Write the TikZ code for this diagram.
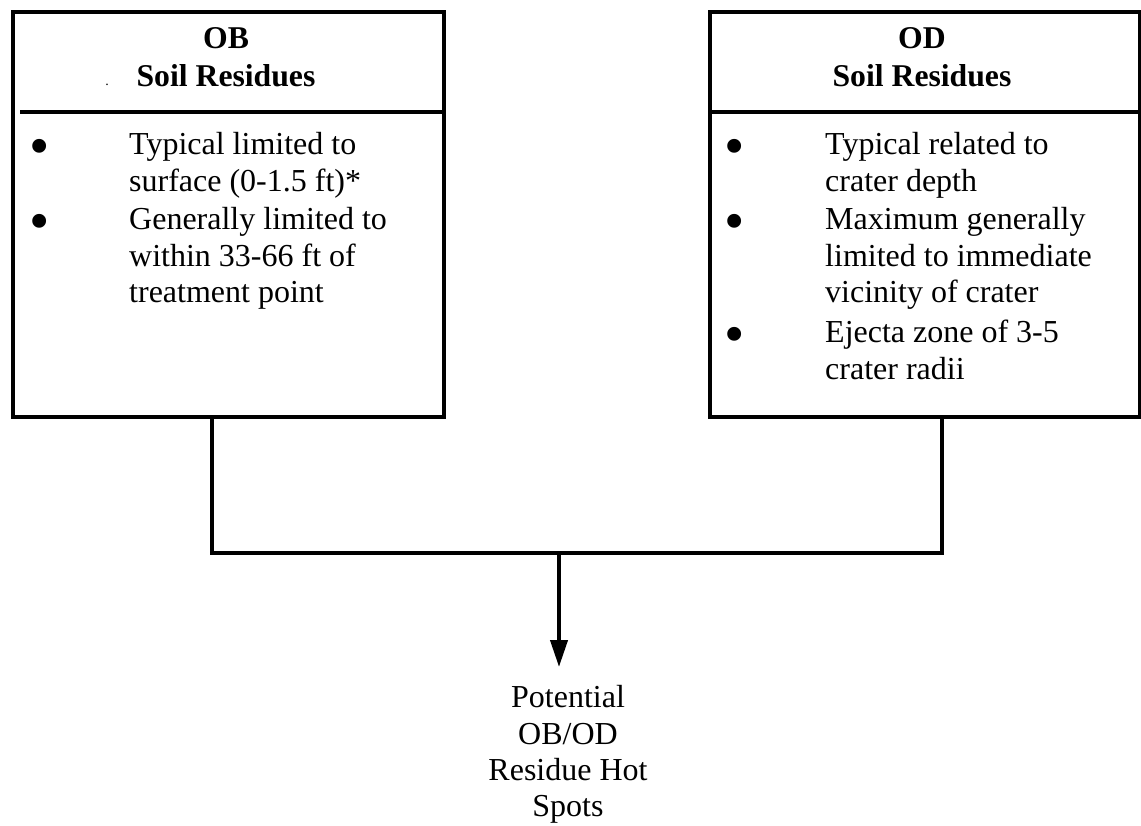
\documentclass[tikz,border=0pt]{standalone}
\usepackage{fontspec}
\setmainfont{Liberation Serif}
\usetikzlibrary{arrows.meta}
\begin{document}
\begin{tikzpicture}[x=1pt,y=-1pt,
  boxnode/.style={draw,line width=4pt,line join=miter,inner sep=0pt,minimum width=431pt,minimum height=405pt,anchor=north west},
  rule/.style={line width=4pt},
  link/.style={line width=4pt,line cap=rect},
  body/.style={font=\fontsize{32}{37}\selectfont,inner sep=0pt,anchor=base west},
  bul/.style={font=\fontsize{58}{60}\selectfont,inner sep=0pt,anchor=base},
  head/.style={font=\fontsize{31.7}{36}\selectfont\bfseries,inner sep=0pt,anchor=base},
  outtext/.style={font=\fontsize{32}{37}\selectfont,inner sep=0pt,anchor=base}]
\useasboundingbox (0,0) rectangle (1141,826);
% boxes
\node[boxnode] (OB) at (11,10) {};
\node[boxnode,minimum width=430pt] (OD) at (708,10) {};
% header dividers
\draw[rule] (20,112) -- (OB.east |- 0,112);
\draw[rule] (712,112) -- (OD.east |- 0,112);
% headers
\node[head] (obt) at (226,49) {OB};
\node[head] (obs) at (226,87) {Soil Residues};
\node[font=\fontsize{14}{16}\selectfont,inner sep=0pt,anchor=base] (dot) at (107,86) {.};
\node[head] (odt) at (922,49) {OD};
\node[head] (ods) at (922,87) {Soil Residues};
% left list
\node[bul] (lb1) at (40,166) {•};
\node[body] (l1) at (129,155) {Typical limited to};
\node[body] (l2) at (129,192) {surface (0-1.5 ft)*};
\node[bul] (lb2) at (40,241) {•};
\node[body] (l3) at (129,230) {Generally limited to};
\node[body] (l4) at (129,267) {within 33-66 ft of};
\node[body] (l5) at (129,303) {treatment point};
% right list
\node[bul] (rb1) at (735,166) {•};
\node[body] (r1) at (825,155) {Typical related to};
\node[body] (r2) at (825,192) {crater depth};
\node[bul] (rb2) at (735,241) {•};
\node[body] (r3) at (825,230) {Maximum generally};
\node[body] (r4) at (825,267) {limited to immediate};
\node[body] (r5) at (825,303) {vicinity of crater};
\node[bul] (rb3) at (735,354) {•};
\node[body] (r6) at (825,343) {Ejecta zone of 3-5};
\node[body] (r7) at (825,380) {crater radii};
% connectors
\coordinate (jl) at (212,553);
\coordinate (jr) at (942,553);
\coordinate (jm) at (559,553);
\coordinate (tip) at (559,667);
\draw[link,line join=miter] (OB.south -| jl) -- (jl) -- (jr) -- (OD.south -| jr);
\draw[line width=4pt,-{Triangle[width=17pt,length=27pt]}] (jm) -- (tip);
% outcome
\node[outtext] (o1) at (568,707) {Potential};
\node[outtext] (o2) at (568,744) {OB/OD};
\node[outtext] (o3) at (568,780) {Residue Hot};
\node[outtext] (o4) at (568,816) {Spots};
\end{tikzpicture}
\end{document}
